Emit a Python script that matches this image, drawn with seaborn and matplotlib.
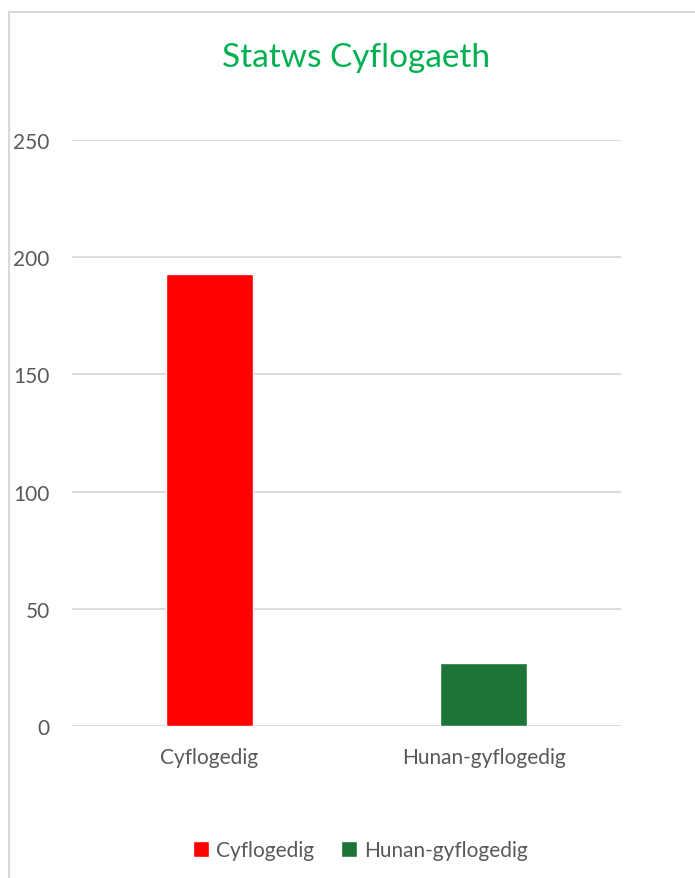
import matplotlib
matplotlib.use("Agg")
import matplotlib.pyplot as plt
import seaborn as sns
import pandas as pd
from matplotlib.patches import Patch, Rectangle

categories = ["Cyflogedig", "Hunan-gyflogedig"]
counts = [193, 27]
colours = ["#FF0000", "#1D7437"]
y_ticks = [0, 50, 100, 150, 200, 250]

df = pd.DataFrame({"status": categories, "count": counts})

sns.set_style("white")
plt.rcParams["font.family"] = ["Lato", "DejaVu Sans"]

fig = plt.figure(figsize=(6.95, 8.79), dpi=100)
ax = fig.add_axes([72 / 695, 152 / 879, 549 / 695, 586 / 879])

sns.barplot(data=df, x="status", y="count", hue="status", palette=colours,
            width=0.317, legend=False, ax=ax, saturation=1)

ax.set_ylim(0, 250)
ax.set_yticks(y_ticks)
ax.set_xlim(-0.5, 1.5)
ax.grid(axis="y", color="#D9D9D9", lw=1.3)
ax.set_axisbelow(True)
for s in ax.spines.values():
    s.set_visible(False)
ax.set_xlabel("")
ax.set_ylabel("")
ax.tick_params(axis="both", length=0, labelsize=15, labelcolor="#595959")
ax.tick_params(axis="y", pad=16)
ax.tick_params(axis="x", pad=15)

fig.text(356 / 695, 1 - 58 / 879, "Statws Cyflogaeth", ha="center", va="center",
         fontsize=24, color="#00B050")

# chart border
fig.patches.append(Rectangle((9 / 695, -0.05), 1.0, 1 - 13 / 879 + 0.05,
                             transform=fig.transFigure, fill=False,
                             edgecolor="#D9D9D9", lw=1.5))

handles = [Patch(facecolor=c, label=l) for c, l in zip(colours, categories)]
fig.legend(handles=handles, loc="center", bbox_to_anchor=(360 / 695, 1 - 851 / 879),
           ncol=2, frameon=False, fontsize=15, labelcolor="#595959",
           handlelength=0.8, handleheight=0.8, handletextpad=0.3, columnspacing=1.3)

fig.savefig("out.png", dpi=100)
